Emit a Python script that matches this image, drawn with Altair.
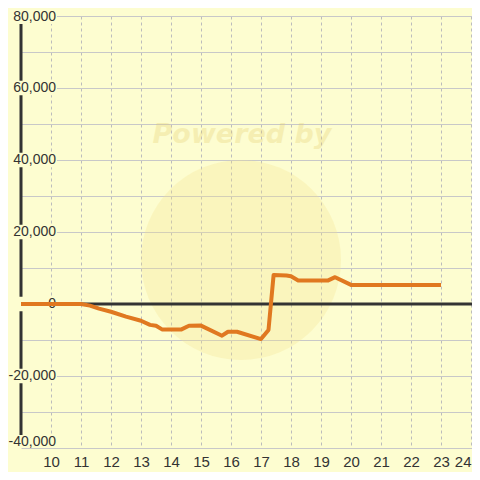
import altair as alt
import pandas as pd

# ---- data ----
hours = [9.0, 11.0, 11.3, 11.6, 12.0, 12.5, 13.0, 13.3, 13.5, 13.7, 14.35, 14.6,
         15.0, 15.7, 15.9, 16.2, 17.0, 17.25, 17.42, 17.85, 18.0, 18.24, 19.24,
         19.47, 20.0, 23.0]
values = [0, 0, -450, -1300, -2150, -3500, -4650, -5800, -6050, -7050, -7050, -6050,
          -6000, -8800, -7700, -7700, -9750, -7200, 8050, 7900, 7700, 6550, 6550,
          7450, 5300, 5300]

x_ticks = list(range(10, 25))
y_grid = list(range(-40000, 80001, 10000))
y_label_values = [80000, 60000, 40000, 20000, 0, -20000, -40000]
y_label_texts = ["80,000", "60,000", "40,000", "20,000", "0", "-20,000", "-40,000"]

BG = "#fdfdd0"
INK = "#333333"
FONT = "Liberation Sans"

X_DOMAIN = [9, 24.033]
Y_DOMAIN = [-40000, 80000]

xs = alt.Scale(domain=X_DOMAIN, nice=False, zero=False)
ys = alt.Scale(domain=Y_DOMAIN, nice=False, zero=False)

X_AXIS = alt.Axis(values=x_ticks, grid=True, gridDash=[3, 3], gridColor="#bcbcbc",
                  gridWidth=1, domain=False, ticks=False, tickSize=0,
                  labelFontSize=15, labelColor=INK, labelFont=FONT,
                  labelPadding=6, format="d", labelOverlap=False,
                  labelFlush=True, title=None)
Y_AXIS = alt.Axis(values=y_grid, grid=True, gridColor="#c8c8c8", gridWidth=1,
                  domain=False, ticks=False, labels=False, title=None)

series = pd.DataFrame({"x": hours, "y": values})

lab = pd.DataFrame({"y": y_label_values, "t": y_label_texts})
lab["lo"] = [77800, 58000, 38000, 18000, -2000, -22000, -40000]
lab["hi"] = [80000, 62000, 42000, 22000, 2000, -18000, -36400]
lab["ypos"] = [79700, 60000, 40000, 20000, 0, -20000, -38300]
lab["x0"] = 8.7
lab["x1"] = 10.2
lab["xl"] = 10.167


def X(field):
    return alt.X(field, scale=xs, axis=X_AXIS, title=None)


def Y(field):
    return alt.Y(field, scale=ys, axis=Y_AXIS, title=None)


# watermark
wm_circle = alt.Chart(pd.DataFrame({"a": [1]})).mark_point(
    shape="circle", filled=True, size=40000, color="#f5e48c", opacity=0.28
).encode(x=alt.value(220), y=alt.value(244))

wm_text = alt.Chart(pd.DataFrame({"a": ["Powered by"]})).mark_text(
    font="DejaVu Sans", fontSize=27, fontWeight="bold", fontStyle="italic",
    color="#e6cf70", opacity=0.3, align="center", baseline="alphabetic"
).encode(x=alt.value(221), y=alt.value(127), text="a:N")

# y axis thick line
axis_line = alt.Chart(pd.DataFrame({"x": [9], "y": [-40000], "y2": [80000]})).mark_rule(
    color=INK, strokeWidth=3
).encode(x=X("x:Q"), y=Y("y:Q"), y2="y2:Q")

# zero line
zero_line = alt.Chart(pd.DataFrame({"x": [9], "x2": [24.033], "y": [0]})).mark_rule(
    color=INK, strokeWidth=3
).encode(x=X("x:Q"), x2="x2:Q", y=Y("y:Q"))

# label backgrounds
lab_bg = alt.Chart(lab).mark_rect(color=BG).encode(
    x=X("x0:Q"), x2="x1:Q", y=Y("lo:Q"), y2="hi:Q"
)

lab_text = alt.Chart(lab).mark_text(
    align="right", baseline="middle", fontSize=14, font=FONT, color=INK
).encode(x=X("xl:Q"), y=Y("ypos:Q"), text="t:N")

line = alt.Chart(series).mark_line(
    color="#e07820", strokeWidth=4, strokeJoin="round", strokeCap="butt"
).encode(x=X("x:Q"), y=Y("y:Q"))

chart = alt.layer(
    wm_circle, wm_text, zero_line, axis_line, lab_bg, lab_text, line
).properties(
    width=451, height=432,
    padding={"left": 13, "top": 8, "right": 0, "bottom": 24},
    autosize=alt.AutoSizeParams(type="none"),
    background=BG,
).configure_view(stroke=None).configure_axisX(labelOverlap=False)

chart.save("out.html", embed_options={"renderer": "svg", "actions": False})
